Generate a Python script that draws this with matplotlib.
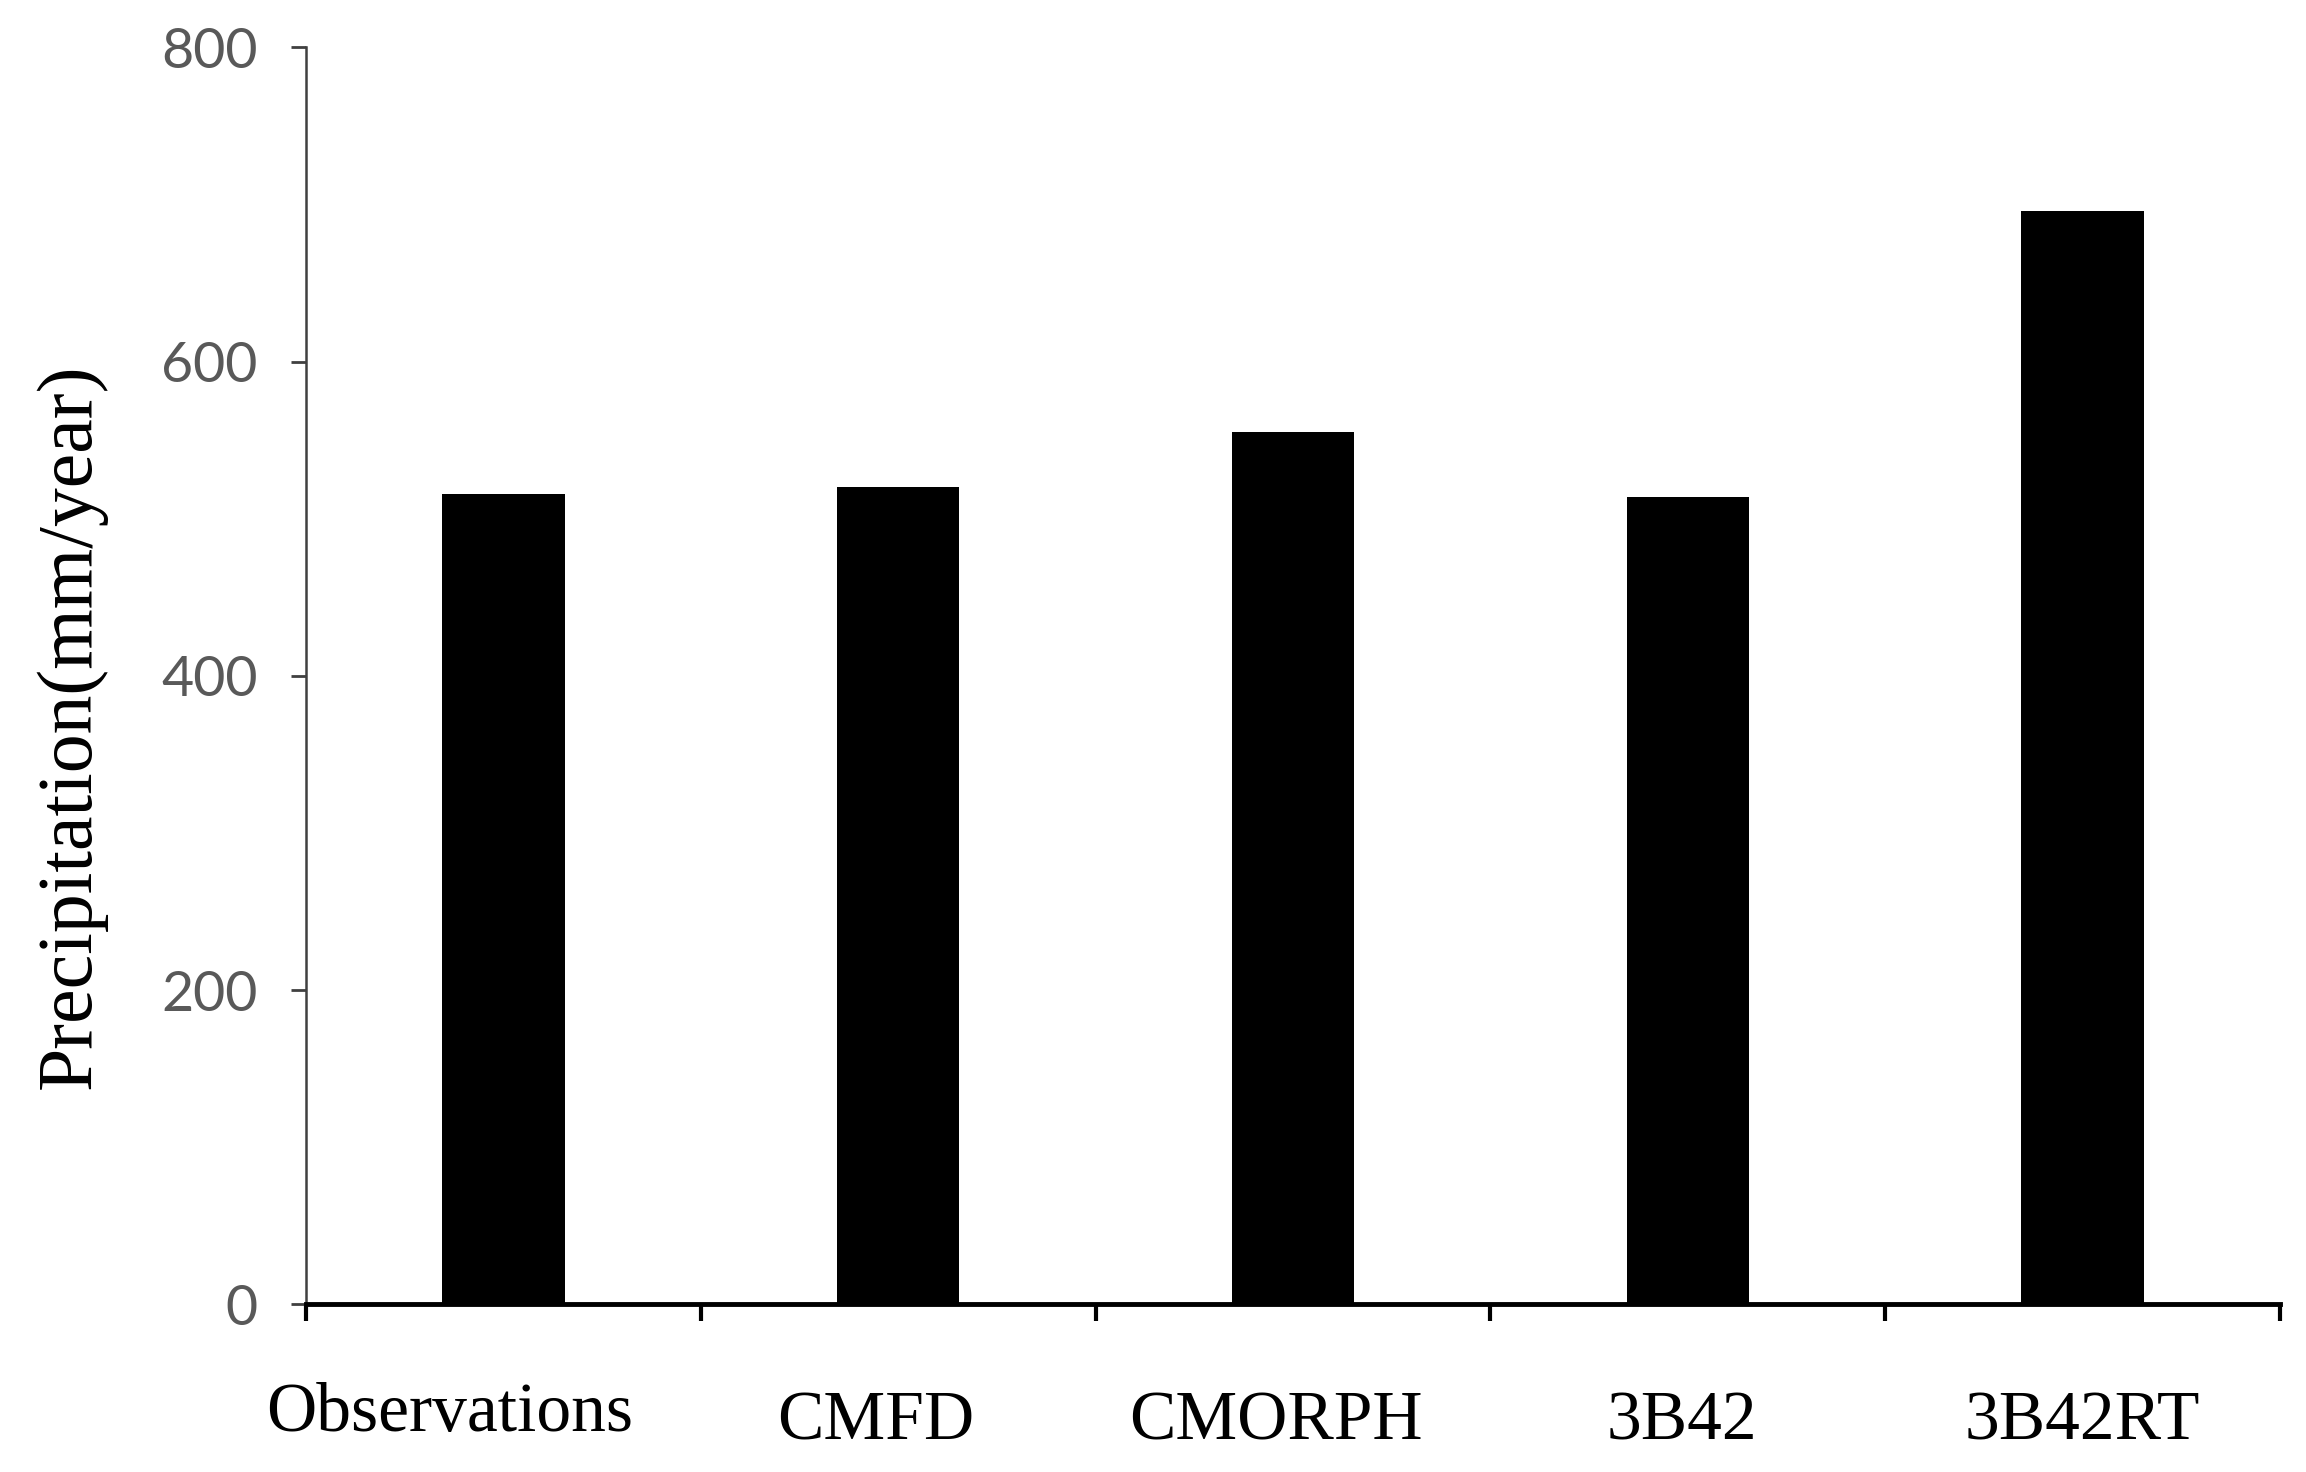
import matplotlib
matplotlib.use("Agg")
import matplotlib.pyplot as plt
from matplotlib.transforms import ScaledTranslation

# data
products = ["Observations", "CMFD", "CMORPH", "3B42", "3B42RT"]
precip = [516, 520, 555, 514, 696]
y_ticks = [0, 200, 400, 600, 800]

fig = plt.figure(figsize=(23.06, 14.72), dpi=100)
ax = fig.add_axes([0.1327, 0.1138, 0.856, 0.854])

pos = list(range(len(products)))
ax.bar(pos, precip, width=0.31, color="black")

ax.set_xlim(-0.5, len(products) - 0.5)
ax.set_ylim(0, 800)

# major ticks on category borders, labels sit on minor ticks in the middle
ax.set_xticks([p - 0.5 for p in pos] + [len(products) - 0.5])
ax.set_xticklabels([])
ax.set_xticks(pos, minor=True)
ax.set_xticklabels(products, minor=True, family="Liberation Serif", fontsize=50)
ax.tick_params(axis="x", which="major", direction="out", length=12, width=3, color="black")
ax.tick_params(axis="x", which="minor", length=0, pad=62)

# the labels in the original are not quite centred under the bars
shifts = [(-39, 6), (-16, 0), (-12, 0), (-4, 0), (0, 0)]
for lab, (dx, dy) in zip(ax.get_xticklabels(minor=True), shifts):
    lab.set_transform(lab.get_transform() + ScaledTranslation(dx / 72, dy / 72, fig.dpi_scale_trans))

ax.set_yticks(y_ticks)
ax.set_yticklabels([str(v) for v in y_ticks], family="Lato", fontsize=40, color="#595959")
ax.tick_params(axis="y", direction="out", length=11, width=2, color="#404040", pad=24)

for side in ["top", "right"]:
    ax.spines[side].set_visible(False)
ax.spines["bottom"].set_linewidth(3.5)
ax.spines["bottom"].set_color("black")
ax.spines["left"].set_linewidth(1.8)
ax.spines["left"].set_color("#404040")

ax.set_ylabel("Precipitation(mm/year)", family="Liberation Serif", fontsize=56)
ax.yaxis.set_label_coords(-0.101, 0.46)

fig.savefig("out.png", dpi=100)
